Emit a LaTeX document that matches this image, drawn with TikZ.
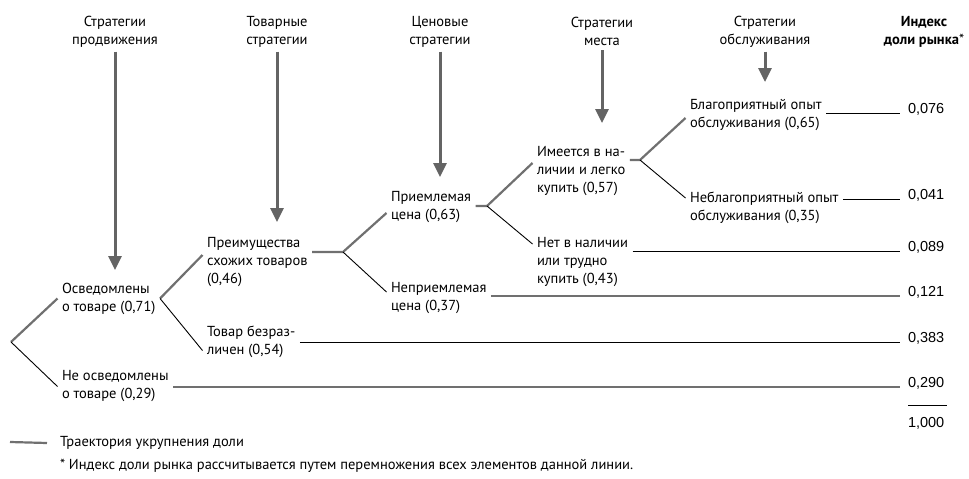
\documentclass[tikz,border=0pt]{standalone}
\usepackage{fontspec}
\setmainfont{PT Sans}
\newfontfamily\numfont{Liberation Sans}
\usetikzlibrary{arrows.meta}
\definecolor{pathgray}{RGB}{112,112,112}
\definecolor{arrowgray}{RGB}{100,100,100}

\begin{document}
\begin{tikzpicture}[
    x=1pt, y=-1pt,
    every node/.style={font=\fontsize{14.5}{18}\selectfont, inner sep=3pt, outer sep=1.5pt},
    opt/.style={anchor=west, align=left},
    strat/.style={align=center},
    idx/.style={anchor=base west, inner sep=0pt, outer sep=0pt, font=\numfont\fontsize{14.5}{18}\selectfont},
    share/.style={draw=pathgray, line width=2.2pt},
    other/.style={draw=black, line width=0.9pt},
    stratarrow/.style={draw=arrowgray, line width=3pt, -{Triangle[width=13pt,length=14pt]}}
]
\useasboundingbox (0,0) rectangle (969,479);

\node[strat] (h1) at (115,31.5) {Стратегии\\продвижения};
\node[strat] (h2) at (277,31.5) {Товарные\\стратегии};
\node[strat] (h3) at (440,31.5) {Ценовые\\стратегии};
\node[strat] (h4) at (602,31.5) {Стратегии\\места};
\node[strat] (h5) at (765,31.5) {Стратегии\\обслуживания};
\node[strat, font=\fontsize{14.5}{18}\selectfont\bfseries] (h6) at (924,31.5) {Индекс\\доли рынка{\mdseries*}};

\coordinate (t1) at (115,270);
\coordinate (t2) at (277,222);
\coordinate (t3) at (440,177);
\coordinate (t4) at (602,123);
\coordinate (t5) at (765,82);
\draw[stratarrow] (h1.south) -- (t1);
\draw[stratarrow] (h2.south) -- (t2);
\draw[stratarrow] (h3.south) -- (t3);
\draw[stratarrow] (h4.south) -- (t4);
\draw[stratarrow] (h5.south) -- (t5);

\node[opt] (osv) at (57.5,298.5) {Осведомлены\\о товаре (0,71)};
\node[opt] (neosv) at (57.5,386.5) {Не осведомлены\\о товаре (0,29)};
\node[opt] (preim) at (202.5,262) {Преимущества\\схожих товаров\\(0,46)};
\node[opt] (tovar) at (202.5,341.5) {Товар безраз-\\личен (0,54)};
\node[opt] (priem) at (386.5,207) {Приемлемая\\цена (0,63)};
\node[opt] (nepriem) at (386.5,298.5) {Неприемлемая\\цена (0,37)};
\node[opt] (imeet) at (532.5,171) {Имеется в на-\\личии и легко\\купить (0,57)};
\node[opt] (net) at (532.5,262) {Нет в наличии\\или трудно\\купить (0,43)};
\node[opt] (blag) at (685.5,115) {Благоприятный опыт\\обслуживания (0,65)};
\node[opt] (neblag) at (685.5,208) {Неблагоприятный опыт\\обслуживания (0,35)};

\node[idx] (v076) at (908,113) {0,076};
\node[idx] (v041) at (908,199) {0,041};
\node[idx] (v089) at (908,251) {0,089};
\node[idx] (v121) at (908,296) {0,121};
\node[idx] (v383) at (908,342) {0,383};
\node[idx] (v290) at (908,387) {0,290};
\node[idx] (vtot) at (908,427) {1,000};

\coordinate (root) at (11,342);
\coordinate (jB) at (343,252);
\coordinate (jC) at (487,206);
\coordinate (jD) at (640,160);

\draw[share] (root) -- (osv.west);
\draw[other] (root) -- (neosv.west);
\draw[share] (osv.east) -- ([yshift=7pt]preim.west);
\draw[other] (osv.east) -- ([yshift=-9pt]tovar.west);
\draw[share] (preim.east |- jB) -- (jB) -- ([yshift=-6pt]priem.west);
\draw[other] (jB) -- ([yshift=6.5pt]nepriem.west);
\draw[share] (priem.east |- jC) -- (jC) -- ([yshift=8pt]imeet.west);
\draw[other] (jC) -- ([yshift=18pt]net.west);
\draw[share] (imeet.east |- jD) -- (jD) -- ([yshift=-3pt]blag.west);
\draw[other] (jD) -- ([yshift=10pt]neblag.west);

\draw[other] (blag.east |- v076.base west) -- ([xshift=-8pt]v076.base west);
\draw[other] (neblag.east |- v041.base west) -- ([xshift=-8pt]v041.base west);
\draw[other] (net.east |- v089.base west) -- ([xshift=-8pt]v089.base west);
\draw[share] (nepriem.east |- v121.base west) -- ([xshift=-8pt]v121.base west);
\draw[other] (tovar.east |- v383.base west) -- ([xshift=-8pt]v383.base west);
\draw[share] (neosv.east |- v290.base west) -- ([xshift=-8pt]v290.base west);
\draw[other] ([yshift=11pt]vtot.north west) -- ([xshift=3pt,yshift=11pt]vtot.north east);

\coordinate (lg) at (10,442);
\node[opt] (leg) at (55.5,443) {Траектория укрупнения доли};
\draw[share] (lg) -- ([xshift=-8.5pt]leg.west);
\node[opt] (note) at (55.5,466) {* Индекс доли рынка рассчитывается путем перемножения всех элементов данной линии.};
\end{tikzpicture}
\end{document}
